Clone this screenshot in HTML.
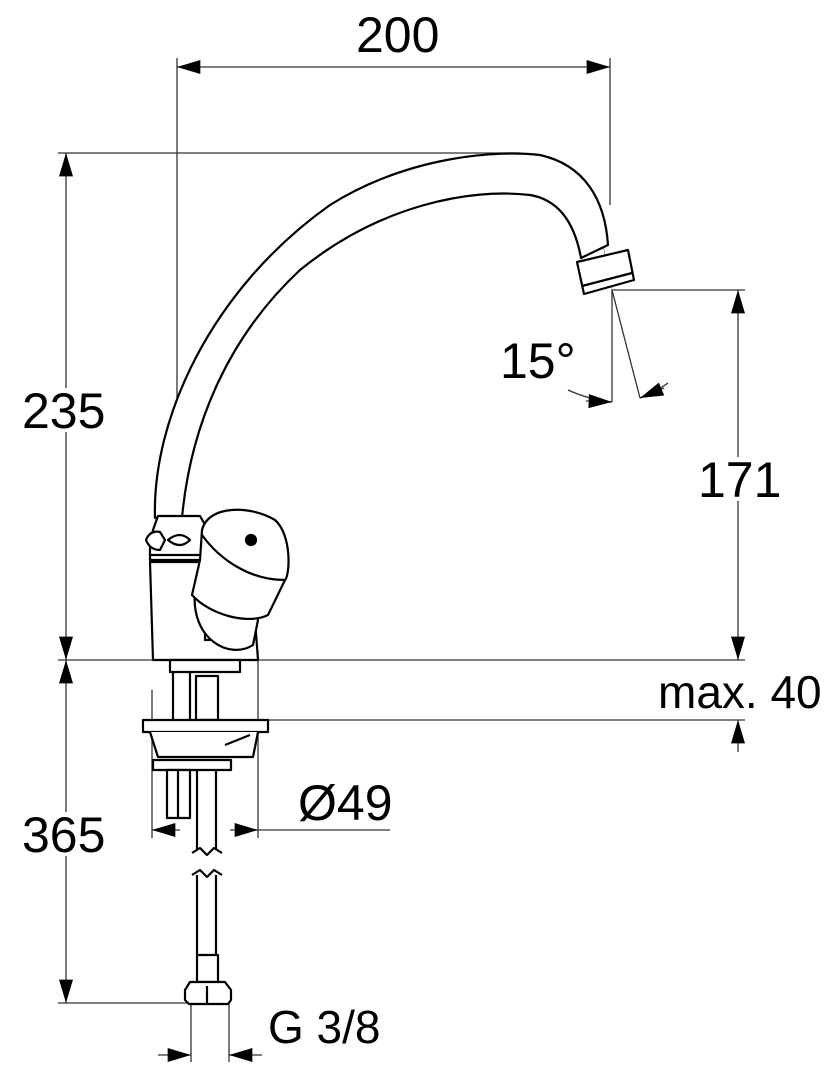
<!DOCTYPE html>
<html><head><style>body{margin:0;background:#fff}svg{display:block}text{font-family:"Liberation Sans",sans-serif;font-size:50px;fill:#000}</style></head>
<body>
<svg width="832" height="1080" viewBox="0 0 832 1080" xmlns="http://www.w3.org/2000/svg">
<defs>
<marker id="a" viewBox="0 0 10 6" refX="10" refY="3" markerWidth="24" markerHeight="14" markerUnits="userSpaceOnUse" orient="auto-start-reverse"><path d="M0,0L10,3L0,6z" fill="#000"/></marker>
</defs>
<g stroke="#333" stroke-width="1.3" fill="none">
<line x1="177" y1="58" x2="177" y2="580"/>
<line x1="610" y1="58" x2="610" y2="205"/>
<line x1="58" y1="153" x2="520" y2="153"/>
<line x1="58" y1="660" x2="745" y2="660"/>
<line x1="58" y1="1003" x2="190" y2="1003"/>
<line x1="612" y1="290" x2="745" y2="290"/>
<line x1="262" y1="720" x2="745" y2="720"/>
<line x1="152" y1="690" x2="152" y2="838"/>
<line x1="258" y1="650" x2="258" y2="838"/>
<line x1="191" y1="1003" x2="191" y2="1062"/>
<line x1="229" y1="1003" x2="229" y2="1062"/>
<line x1="612" y1="290" x2="612" y2="402"/>
<line x1="612" y1="290" x2="640" y2="398"/>
<line x1="177" y1="67" x2="610" y2="67" marker-start="url(#a)" marker-end="url(#a)"/>
<line x1="66" y1="153" x2="66" y2="660" marker-start="url(#a)" marker-end="url(#a)"/>
<line x1="66" y1="660" x2="66" y2="1003" marker-start="url(#a)" marker-end="url(#a)"/>
<line x1="738" y1="290" x2="738" y2="660" marker-start="url(#a)" marker-end="url(#a)"/>
<line x1="738" y1="752" x2="738" y2="720" marker-end="url(#a)"/>
<line x1="180" y1="830" x2="152" y2="830" marker-end="url(#a)"/>
<line x1="230" y1="830" x2="258" y2="830" marker-end="url(#a)"/>
<line x1="258" y1="830" x2="390" y2="830"/>
<line x1="158" y1="1055" x2="191" y2="1055" marker-end="url(#a)"/>
<line x1="262" y1="1055" x2="229" y2="1055" marker-end="url(#a)"/>
<path d="M568,390 Q590,400 612,402"/>
<path d="M586,401 L612,402" marker-end="url(#a)"/>
<path d="M668,383 Q652,394 640,398"/>
<path d="M664,388 L640,398" marker-end="url(#a)"/>
</g>
<g stroke="#888" stroke-width="0.8" fill="none" stroke-dasharray="30 4 3 4">
<path d="M168,515 C170,380 300,180 520,172 C570,172 590,200 602,240 L612,290"/>
</g>
<g stroke="#000" stroke-width="2.2" fill="#fff" stroke-linejoin="round">
<path d="M155,518 C152,420 210,290 330,205 C410,155 500,150 540,155 C585,165 605,200 608,245 L581,258 C575,225 560,200 530,195 C470,188 380,205 300,270 C225,340 190,430 182,518 Z"/>
<path d="M577,262 L628,250 L634,280 L584,294 Z"/>
<line x1="582" y1="286" x2="632" y2="273"/>
<path d="M153,530 L158,516 L180,516 L200,516 L208,530 L208,560 L150,560 L150,545 Z"/>
<path d="M146,540 Q150,530 160,532 L165,540 L160,550 Q150,550 146,540 Z"/>
<path d="M168,540 Q180,530 190,540 Q180,550 168,540 Z"/>
<line x1="150" y1="555" x2="208" y2="555"/>
<path d="M150,562 L205,562 L205,640 Q250,640 255,620 L258,660 L153,660 Z"/>
<path d="M195,590 C190,640 230,660 253,645 L258,620 C255,600 240,600 235,600 Z"/>
<path d="M202,530 C208,505 250,505 275,520 C292,535 290,575 285,580 L268,615 C248,625 210,615 192,595 L200,560 Z"/>
<path d="M202,535 C220,560 250,580 285,580" fill="none"/>
<circle cx="251" cy="540" r="5" fill="#000"/>
<rect x="170" y="660" width="70" height="12"/>
<line x1="173" y1="672" x2="173" y2="720"/>
<line x1="190" y1="672" x2="190" y2="720"/>
<rect x="196" y="676" width="22" height="44"/>
<rect x="143" y="720" width="125" height="12"/>
<path d="M150,732 L158,757 L253,757 L258,732" />
<path d="M225,745 L250,735" fill="none"/>
<rect x="153" y="760" width="78" height="10"/>
<rect x="167" y="770" width="23" height="48"/>
<line x1="178" y1="770" x2="178" y2="818"/>
<line x1="197" y1="770" x2="197" y2="850"/>
<line x1="216" y1="770" x2="216" y2="850"/>
<line x1="197" y1="875" x2="197" y2="955"/>
<line x1="216" y1="875" x2="216" y2="955"/>
<path d="M192,853 L200,848 L207,855 L214,848 L222,853" fill="none"/>
<path d="M192,875 L200,870 L207,877 L214,870 L222,875" fill="none"/>
<rect x="197" y="955" width="21" height="27"/>
<path d="M185,990 L190,982 L225,982 L231,990 L231,1000 L228,1004 L189,1004 L185,1000 Z"/>
<line x1="207" y1="986" x2="207" y2="1004"/>
</g>
<g fill="#fff">
<rect x="20" y="388" width="88" height="44"/>
<rect x="20" y="812" width="88" height="44"/>
<rect x="696" y="457" width="80" height="44"/>
</g>
<text x="356" y="52">200</text>
<text x="22" y="428">235</text>
<text x="22" y="852">365</text>
<text x="698" y="497">171</text>
<text x="500" y="378">15°</text>
<text x="658" y="708" style="font-size:46px">max. 40</text>
<text x="298" y="820">Ø49</text>
<text x="268" y="1043" style="font-size:46px">G 3/8</text>
</svg>
</body></html>
